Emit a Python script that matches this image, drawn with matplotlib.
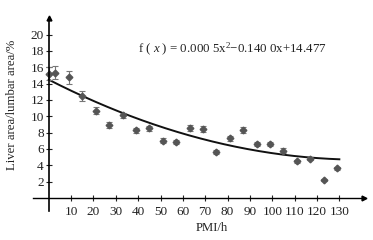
import numpy as np
import matplotlib
matplotlib.use('Agg')
import matplotlib.pyplot as plt

plt.rcParams['font.family'] = ['Liberation Serif', 'DejaVu Serif']
plt.rcParams['mathtext.fontset'] = 'custom'
plt.rcParams['mathtext.rm'] = 'Liberation Serif'
plt.rcParams['mathtext.it'] = 'Liberation Serif:italic'

# data
pmi = [0, 3, 9, 15, 21, 27, 33, 39, 45, 51, 57, 63, 69, 75, 81, 87, 93, 99,
       105, 111, 117, 123, 129]
ratio = [15.2, 15.3, 14.8, 12.5, 10.7, 8.9, 10.1, 8.3, 8.5, 7.0, 6.8, 8.6,
         8.4, 5.6, 7.3, 8.3, 6.6, 6.6, 5.75, 4.5, 4.8, 2.2, 3.6]
err = [0.8, 0.8, 0.8, 0.6, 0.45, 0.4, 0.35, 0.3, 0.35, 0.3, 0.25, 0.35,
       0.35, 0.25, 0.3, 0.4, 0.25, 0.25, 0.3, 0.2, 0.2, 0.15, 0.15]
coef = [0.0005, -0.1400, 14.477]   # fitted quadratic shown on the chart
xticks = list(range(10, 140, 10))
yticks = list(range(2, 22, 2))

fig = plt.figure(figsize=(3.73, 2.4), dpi=100)
ax = fig.add_axes([0.0887, 0.121, 0.887, 0.803])

xs = np.linspace(0, 130, 200)
ax.plot(xs, np.polyval(coef, xs), color='#111111', lw=1.4)

ax.errorbar(pmi, ratio, yerr=err, fmt='D', ms=3.4, color='#555555',
            ecolor='#777777', elinewidth=0.8, capsize=2, capthick=0.8)

ax.set_xlim(-7, 141)
ax.set_ylim(-1.6, 22)

### axes through the origin with arrows ###
for s in ['top', 'right']:
    ax.spines[s].set_visible(False)
ax.spines['left'].set_position(('data', 0))
ax.spines['bottom'].set_position(('data', 0))
ax.spines['left'].set_linewidth(1.2)
ax.spines['bottom'].set_linewidth(1.0)
ax.plot(1, 0, '>', color='k', ms=3.5, transform=ax.get_yaxis_transform(), clip_on=False)
ax.plot(0, 1, '^', color='k', ms=3.5, transform=ax.get_xaxis_transform(), clip_on=False)

ax.set_xticks(xticks)
ax.set_yticks(yticks)
ax.tick_params(direction='inout', length=5, width=0.8, labelsize=9.5, colors='#222222')
ax.tick_params(axis='x', pad=3)
ax.tick_params(axis='y', pad=1)

ax.text(40, 18.2, r'f ( $x$ ) = 0.000 5x$^{2}$$-$0.140 0x+14.477', fontsize=9.3,
        va='center', ha='left', color='#222222')

fig.text(0.032, 0.5625, 'Liver area/lumbar area/%', rotation=90, fontsize=9.2,
         ha='center', va='center', color='#222222')
fig.text(0.568, 0.05, 'PMI/h', fontsize=9.2, ha='center', va='center', color='#222222')

fig.savefig('out.png', dpi=100)
